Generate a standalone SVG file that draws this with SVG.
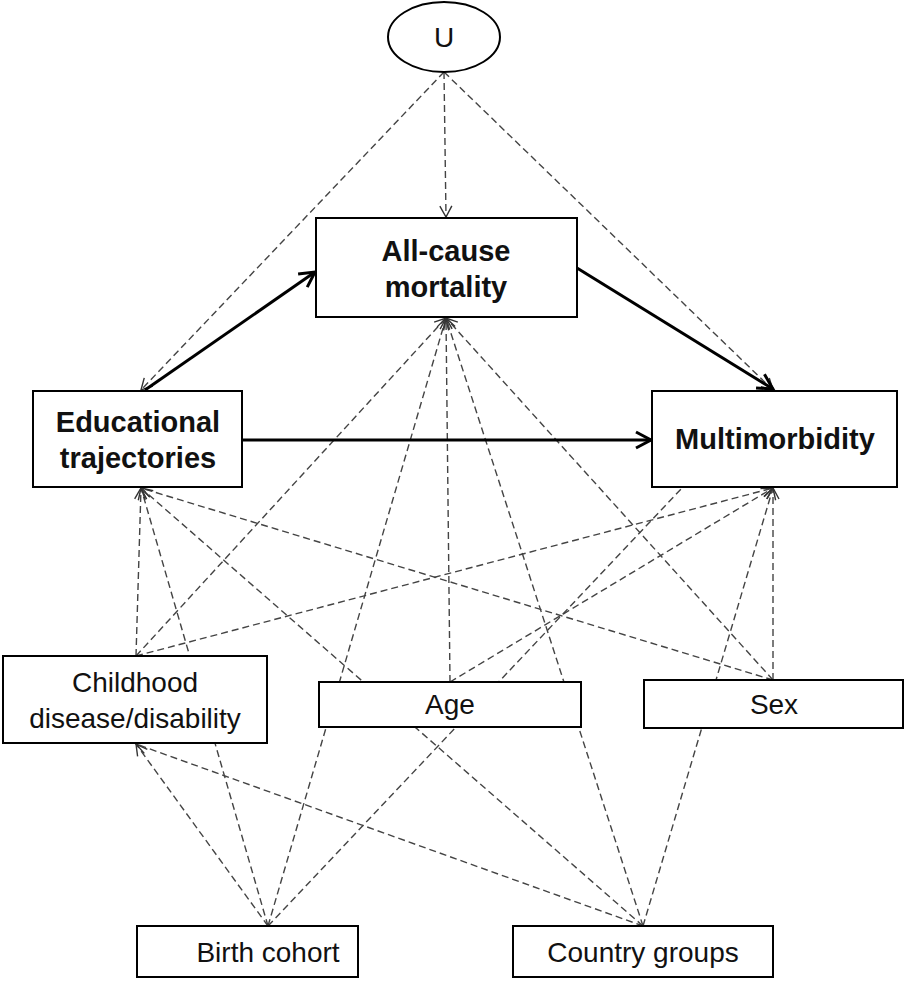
<svg xmlns="http://www.w3.org/2000/svg" width="906" height="983" viewBox="0 0 906 983">
<style>
.box{fill:#fff;stroke:#000;stroke-width:2}
.t{font-family:"Liberation Sans",Arial,sans-serif;font-size:28px;fill:#111;text-anchor:middle}
.b{font-weight:bold;font-size:29px}
.d{fill:none;stroke:#444;stroke-width:1.4;stroke-dasharray:7 4}
.s{fill:none;stroke:#000;stroke-width:3}
</style>
<defs>
<marker id="ad" markerUnits="userSpaceOnUse" markerWidth="14" markerHeight="14" refX="12" refY="7" orient="auto" overflow="visible">
<path d="M1,1 L12,7 L1,13" fill="none" stroke="#333" stroke-width="1.4"/>
</marker>
<marker id="as" markerUnits="userSpaceOnUse" markerWidth="20" markerHeight="20" refX="17" refY="10" orient="auto" overflow="visible">
<path d="M2,2 L17,10 L2,18" fill="none" stroke="#000" stroke-width="3"/>
</marker>
</defs>
<g id="connectors">
<line class="d" x1="444" y1="72" x2="141" y2="390" marker-end="url(#ad)"/>
<line class="d" x1="444" y1="72" x2="446" y2="217" marker-end="url(#ad)"/>
<line class="d" x1="444" y1="72" x2="773" y2="390" marker-end="url(#ad)"/>
<line class="d" x1="136" y1="656" x2="141" y2="488" marker-end="url(#ad)"/>
<line class="d" x1="136" y1="656" x2="446" y2="318" marker-end="url(#ad)"/>
<line class="d" x1="136" y1="656" x2="773" y2="488" marker-end="url(#ad)"/>
<line class="d" x1="450" y1="682" x2="446" y2="318" marker-end="url(#ad)"/>
<line class="d" x1="450" y1="682" x2="773" y2="488" marker-end="url(#ad)"/>
<line class="d" x1="773" y1="680" x2="141" y2="488" marker-end="url(#ad)"/>
<line class="d" x1="773" y1="680" x2="446" y2="318" marker-end="url(#ad)"/>
<line class="d" x1="773" y1="680" x2="773" y2="488" marker-end="url(#ad)"/>
<line class="d" x1="268" y1="926" x2="136" y2="744" marker-end="url(#ad)"/>
<line class="d" x1="268" y1="926" x2="141" y2="488" marker-end="url(#ad)"/>
<line class="d" x1="268" y1="926" x2="446" y2="318" marker-end="url(#ad)"/>
<line class="d" x1="268" y1="926" x2="682" y2="488"/>
<line class="d" x1="643" y1="926" x2="136" y2="744" marker-end="url(#ad)"/>
<line class="d" x1="643" y1="926" x2="141" y2="488" marker-end="url(#ad)"/>
<line class="d" x1="643" y1="926" x2="446" y2="318" marker-end="url(#ad)"/>
<line class="d" x1="643" y1="926" x2="773" y2="488" marker-end="url(#ad)"/>
<line class="s" x1="145" y1="390" x2="315" y2="272" marker-end="url(#as)"/>
<line class="s" x1="577" y1="268" x2="773" y2="389" marker-end="url(#as)"/>
<line class="s" x1="242" y1="440" x2="651" y2="440" marker-end="url(#as)"/>
</g>
<g id="node-u">
<ellipse class="box" cx="444" cy="37" rx="56" ry="35"/>
<text class="t" x="444" y="47">U</text>
</g>
<g id="node-mortality">
<rect class="box" x="316" y="218" width="261" height="99"/>
<text class="t b" x="446" y="261">All-cause</text>
<text class="t b" x="446" y="297">mortality</text>
</g>
<g id="node-education">
<rect class="box" x="33" y="391" width="209" height="96"/>
<text class="t b" x="138" y="432">Educational</text>
<text class="t b" x="138" y="468">trajectories</text>
</g>
<g id="node-multimorbidity">
<rect class="box" x="652" y="391" width="245" height="96"/>
<text class="t b" x="775" y="449">Multimorbidity</text>
</g>
<g id="node-childhood">
<rect class="box" x="3" y="656" width="264" height="87"/>
<text class="t" x="135" y="692">Childhood</text>
<text class="t" x="135" y="728">disease/disability</text>
</g>
<g id="node-age">
<rect class="box" x="319" y="682" width="262" height="45"/>
<text class="t" x="450" y="714">Age</text>
</g>
<g id="node-sex">
<rect class="box" x="644" y="680" width="259" height="48"/>
<text class="t" x="774" y="714">Sex</text>
</g>
<g id="node-birth">
<rect class="box" x="137" y="926" width="221" height="51"/>
<text class="t" x="268" y="962">Birth cohort</text>
</g>
<g id="node-country">
<rect class="box" x="513" y="926" width="260" height="51"/>
<text class="t" x="643" y="962">Country groups</text>
</g>
</svg>
